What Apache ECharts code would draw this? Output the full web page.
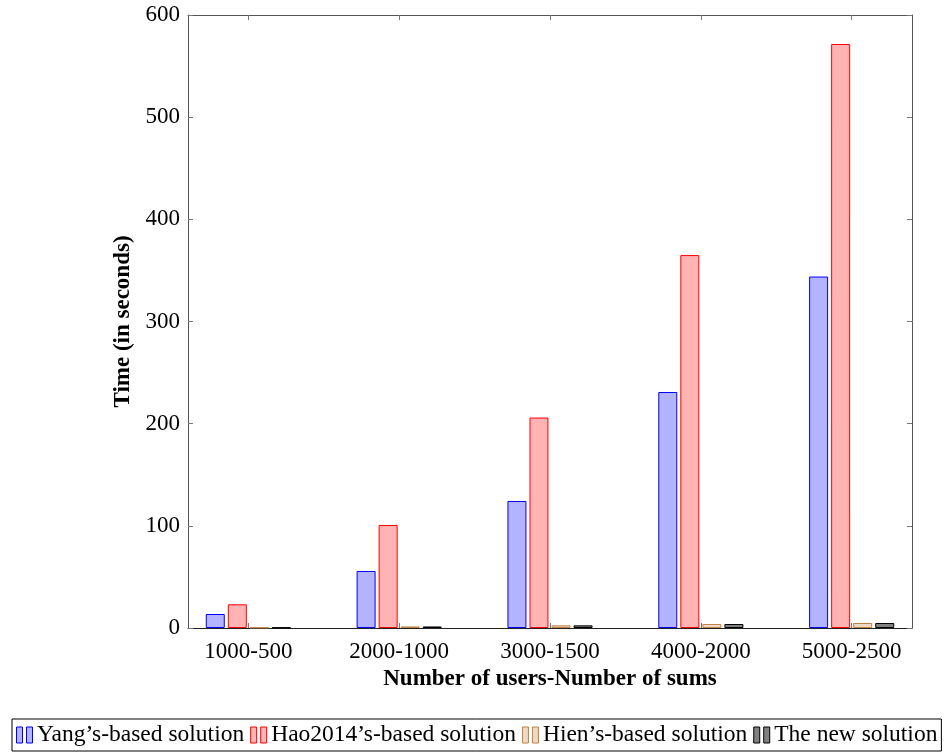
<!DOCTYPE html>
<html>
<head>
    <meta charset="UTF-8">
    <title>Time per solution</title>
    <script src="https://cdn.jsdelivr.net/npm/echarts@6/dist/echarts.min.js"></script>
    <style>
        html, body { margin: 0; padding: 0; background: #fff; }
        #chart { width: 944px; height: 753px; }
    </style>
</head>
<body>
<div id="chart"></div>
<script>
    var categories = ['1000-500', '2000-1000', '3000-1500', '4000-2000', '5000-2500'];
    var seriesNames = ['Yang\u2019s-based solution', 'Hao2014\u2019s-based solution', 'Hien\u2019s-based solution', 'The new solution'];
    var yang = [13.7, 55.8, 124.3, 231, 344];
    var hao = [23.2, 100.8, 206, 365, 571.6];
    var hien = [0.5, 1.5, 2.6, 3.9, 4.9];
    var newSol = [0.5, 1.5, 2.6, 3.9, 4.9];
    var catTicks = [0, 1, 2, 3, 4];

    var font = 'Liberation Serif';
    var fills = ['#b3b3ff', '#ffb3b3', '#ecd9c6', '#808080'];
    var strokes = ['#0000ff', '#ff0000', '#bf8040', '#000000'];
    var values = [yang, hao, hien, newSol];
    // two little bars as legend icon, like pgfplots ybar legend
    var barIcon = 'path://M0,0 L6,0 L6,16 L0,16 Z M10,0 L16,0 L16,16 L10,16 Z';

    var series = [];
    var legendData = [];
    for (var s = 0; s < values.length; s++) {
        var pts = [];
        for (var i = 0; i < categories.length; i++) {
            pts.push([i, values[s][i]]);
        }
        var style = {color: fills[s], borderColor: strokes[s], borderWidth: 1};
        series.push({
            name: seriesNames[s],
            type: 'bar',
            data: pts,
            barWidth: 19,
            barGap: '16%',
            itemStyle: style,
            emphasis: {disabled: true}
        });
        legendData.push({name: seriesNames[s], icon: barIcon, itemStyle: style});
    }

    var chart = echarts.init(document.getElementById('chart'));
    chart.setOption({
        animation: false,
        textStyle: {fontFamily: font},
        grid: {left: 188, right: 32, top: 15, bottom: 125, containLabel: false},
        legend: {
            data: legendData,
            left: 12,
            top: 719,
            width: 1200,
            padding: [4, 4, 4, 4],
            borderColor: '#000',
            borderWidth: 1,
            itemWidth: 17,
            itemHeight: 16,
            itemGap: 6,
            selectedMode: false,
            textStyle: {fontFamily: font, fontSize: 23.5, color: '#000', padding: [0, 0, 0, -1]}
        },
        xAxis: [{
            type: 'value',
            min: -0.4,
            max: 4.4,
            name: 'Number of users-Number of sums',
            nameLocation: 'middle',
            nameGap: 29,
            nameTextStyle: {fontFamily: font, fontSize: 23, fontWeight: 'bold', color: '#000'},
            splitLine: {show: false},
            axisLine: {onZero: false, lineStyle: {color: '#222', width: 1}},
            axisTick: {show: true, inside: true, length: 5, lineStyle: {color: '#777'}, customValues: catTicks},
            axisLabel: {
                customValues: catTicks,
                margin: 12,
                fontFamily: font, fontSize: 23, color: '#000',
                formatter: function (v) { return categories[Math.round(v)]; }
            }
        }, {
            type: 'value',
            position: 'top',
            min: -0.4,
            max: 4.4,
            splitLine: {show: false},
            axisLine: {show: true, onZero: false, lineStyle: {color: '#555', width: 1}},
            axisTick: {show: true, inside: true, length: 5, lineStyle: {color: '#777'}, customValues: catTicks},
            axisLabel: {show: false}
        }],
        yAxis: [{
            type: 'value',
            min: 0,
            max: 600,
            interval: 100,
            name: 'Time (in seconds)',
            nameLocation: 'middle',
            nameGap: 52,
            nameTextStyle: {fontFamily: font, fontSize: 23, fontWeight: 'bold', color: '#000'},
            splitLine: {show: false},
            axisLine: {show: true, onZero: false, lineStyle: {color: '#555', width: 1}},
            axisTick: {show: true, inside: true, length: 5, lineStyle: {color: '#777'}},
            axisLabel: {fontFamily: font, fontSize: 23, color: '#000', margin: 8}
        }, {
            type: 'value',
            position: 'right',
            min: 0,
            max: 600,
            interval: 100,
            splitLine: {show: false},
            axisLine: {show: true, onZero: false, lineStyle: {color: '#555', width: 1}},
            axisTick: {show: true, inside: true, length: 5, lineStyle: {color: '#777'}},
            axisLabel: {show: false}
        }],
        series: series
    });
</script>
</body>
</html>
